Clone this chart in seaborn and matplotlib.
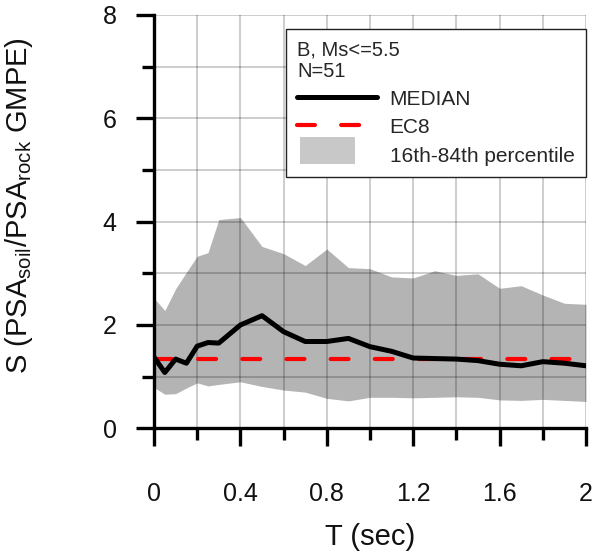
import matplotlib
matplotlib.use("Agg")
import matplotlib.pyplot as plt
import seaborn as sns
import pandas as pd
from matplotlib.lines import Line2D
from matplotlib.patches import Patch, Rectangle
from matplotlib.legend_handler import HandlerPatch
from matplotlib.ticker import FixedLocator, FixedFormatter

# ---- data ----
period = [0, 0.05, 0.1, 0.15, 0.2, 0.25, 0.3, 0.4, 0.5, 0.6, 0.7, 0.8, 0.9,
          1.0, 1.1, 1.2, 1.3, 1.4, 1.5, 1.6, 1.7, 1.8, 1.9, 2.0]
median = [1.38, 1.08, 1.34, 1.26, 1.59, 1.66, 1.65, 2.00, 2.18, 1.87, 1.68, 1.68,
          1.74, 1.58, 1.49, 1.36, 1.35, 1.34, 1.31, 1.24, 1.21, 1.29, 1.26, 1.21]
p84 = [2.52, 2.28, 2.70, 3.02, 3.33, 3.40, 4.04, 4.08, 3.52, 3.38, 3.15, 3.47,
       3.11, 3.09, 2.93, 2.91, 3.05, 2.96, 2.99, 2.71, 2.76, 2.58, 2.42, 2.40]
p16 = [0.79, 0.66, 0.67, 0.78, 0.88, 0.82, 0.85, 0.90, 0.81, 0.74, 0.70, 0.58,
       0.53, 0.60, 0.60, 0.59, 0.60, 0.61, 0.60, 0.55, 0.54, 0.56, 0.54, 0.52]
ec8_value = 1.35
ec8 = [ec8_value] * len(period)

x_major = [0, 0.4, 0.8, 1.2, 1.6, 2.0]
x_labels = ["0", "0.4", "0.8", "1.2", "1.6", "2"]
x_minor = [0.2, 0.6, 1.0, 1.4, 1.8]
y_major = [0, 2, 4, 6, 8]
y_labels = ["0", "2", "4", "6", "8"]
y_minor = [1, 3, 5, 7]

legend_title = "B, Ms<=5.5\nN=51"
label_median = "MEDIAN"
label_ec8 = "EC8"
label_band = "16th-84th percentile"

df = pd.DataFrame({"T": period, "median": median, "p16": p16, "p84": p84, "ec8": ec8})

# ---- style ----
sns.set_theme(style="white")
plt.rcParams["font.family"] = ["Liberation Sans", "DejaVu Sans"]
plt.rcParams["mathtext.fontset"] = "custom"
plt.rcParams["mathtext.rm"] = "Liberation Sans"
plt.rcParams["mathtext.it"] = "Liberation Sans"

fig = plt.figure(figsize=(5.94, 5.52), dpi=100)
ax = fig.add_axes([154 / 594, 1 - 428.3 / 552, (586 - 154) / 594, (428.3 - 15) / 552])

ax.fill_between(df["T"], df["p16"], df["p84"], color="#b4b4b4", linewidth=0, zorder=0.3)
sns.lineplot(data=df, x="T", y="median", ax=ax, color="black", linewidth=3.6,
             solid_joinstyle="round", zorder=3)
sns.lineplot(data=df, x="T", y="ec8", ax=ax, color="#ff0000", linewidth=3.0,
             linestyle=(0, (4.3, 6.3)), dash_capstyle="round", zorder=2.5)

ax.set_xlim(0, 2)
ax.set_ylim(0, 8)
ax.xaxis.set_major_locator(FixedLocator(x_major))
ax.xaxis.set_major_formatter(FixedFormatter(x_labels))
ax.xaxis.set_minor_locator(FixedLocator(x_minor))
ax.yaxis.set_major_locator(FixedLocator(y_major))
ax.yaxis.set_major_formatter(FixedFormatter(y_labels))
ax.yaxis.set_minor_locator(FixedLocator(y_minor))

ax.set_axisbelow(True)
ax.grid(True, which="both", color="black", alpha=0.25, linewidth=1.1)

for s in ["top", "right"]:
    ax.spines[s].set_visible(False)
for s in ["left", "bottom"]:
    ax.spines[s].set_color("black")
    ax.spines[s].set_linewidth(2.4)
    ax.spines[s].set_zorder(4)

ax.tick_params(axis="both", which="both", bottom=True, left=True, top=False, right=False)
ax.tick_params(axis="both", which="major", direction="out", length=13, width=2.4,
               color="black", labelsize=18, labelcolor="#111111")
ax.tick_params(axis="both", which="minor", direction="out", length=8.6, width=2.4,
               color="black")
ax.tick_params(axis="x", which="major", pad=26)
ax.tick_params(axis="y", which="major", pad=14)

ax.set_xlabel("T (sec)", fontsize=21, color="#111111", labelpad=12)
ax.set_ylabel(r"S (PSA$_{\mathrm{soil}}$/PSA$_{\mathrm{rock}}$ GMPE)", fontsize=21,
              color="#111111")
ax.yaxis.set_label_coords(-0.275, 0.54)


def make_band_patch(legend, orig_handle, xdescent, ydescent, width, height, fontsize):
    h = height * 1.45
    return Rectangle((xdescent + 0.04 * width, ydescent + (height - h) / 2),
                     width * 0.68, h)


handles = [
    Line2D([], [], color="black", linewidth=3.6),
    Line2D([], [], color="#ff0000", linewidth=3.0, linestyle=(0, (4.3, 6.3)),
           dash_capstyle="round"),
    Patch(facecolor="#c8c8c8", edgecolor="none"),
]
leg = ax.legend(handles, [label_median, label_ec8, label_band], title=legend_title,
                loc="upper right", bbox_to_anchor=(1.0, (428.3 - 29) / 413.3),
                borderaxespad=0, fontsize=15, title_fontsize=14.5,
                frameon=True, fancybox=False, edgecolor="#222222", framealpha=1,
                handlelength=3.85, handleheight=1.0, handletextpad=0.6,
                labelspacing=0.38, borderpad=0.55, alignment="left",
                handler_map={Patch: HandlerPatch(patch_func=make_band_patch)})
leg.get_frame().set_linewidth(1.0)
leg.set_zorder(10)
leg.get_title().set_linespacing(1.15)

fig.savefig("out.png", dpi=100)
